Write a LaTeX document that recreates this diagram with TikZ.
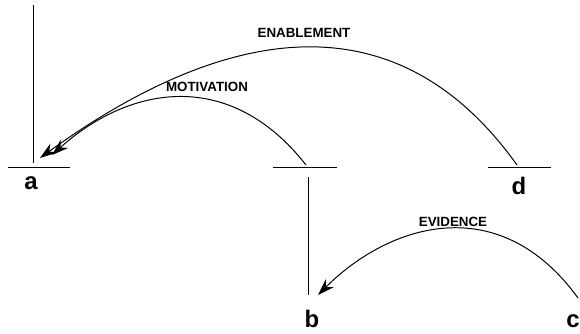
\documentclass[tikz,border=0pt]{standalone}
\usepackage{fontspec}
\setmainfont{Liberation Sans}
\usetikzlibrary{arrows.meta}

\begin{document}
\begin{tikzpicture}[
    x=0.025cm, y=-0.025cm,
    line width=0.7pt,
    unit/.style    ={font=\fontsize{17}{17}\selectfont\bfseries, inner sep=0pt,
                     anchor=base},
    rellbl/.style  ={font=\fontsize{9.5}{10}\selectfont\bfseries, inner sep=0pt},
    spanline/.style={draw=black, line width=0.7pt},
    relarc/.style  ={-{Stealth[length=4.2mm, width=2.8mm]}, line width=0.7pt}
]
\useasboundingbox (0,0) rectangle (580,334);

% --- Unit labels, baselines under the span lines. ---
\node[unit] (a) at ( 31,190) {a};
\node[unit] (b) at (312,328) {b};
\node[unit] (c) at (573,328) {c};
\node[unit] (d) at (519,195) {d};

% --- Span lines (horizontal) and the vertical links. ---
\coordinate (a-l)   at (  8,167);  \coordinate (a-r)  at ( 70,167);
\coordinate (b-l)   at (273,167);  \coordinate (b-r)  at (337,167);
\coordinate (d-l)   at (488,167);  \coordinate (d-r)  at (551,167);
\coordinate (a-top) at ( 33,  5);  \coordinate (a-bot) at ( 33,163);
\coordinate (b-top) at (308,177);  \coordinate (b-bot) at (308,295);

\draw[spanline] (a-l) -- (a-r);
\draw[spanline] (b-l) -- (b-r);
\draw[spanline] (d-l) -- (d-r);
\draw[spanline] (a-top) -- (a-bot);
\draw[spanline] (b-top) -- (b-bot);

% --- Ends of the relation arcs. ---
\coordinate (d-out) at (517,165);
\coordinate (b-out) at (306,165);
\coordinate (c-out) at (578,298);
\coordinate (a-in1) at ( 40,158);
\coordinate (a-in2) at ( 52,155);
\coordinate (b-in)  at (318,295);

% --- Relation arcs, satellite -> nucleus. ---
\draw[relarc] (d-out) .. controls +(-135,-189) and +(155,-112) .. (a-in1);
\draw[relarc] (b-out) .. controls +(-76,-97)   and +(78,-70)   .. (a-in2);
\draw[relarc] (c-out) .. controls +(-79,-109)  and +(71,-71)   .. (b-in);

% --- Relation names over the arcs. ---
\node[rellbl] (enab) at (304, 33) {ENABLEMENT};
\node[rellbl] (moti) at (207, 87) {MOTIVATION};
\node[rellbl] (evid) at (453,222) {EVIDENCE};

\end{tikzpicture}
\end{document}
